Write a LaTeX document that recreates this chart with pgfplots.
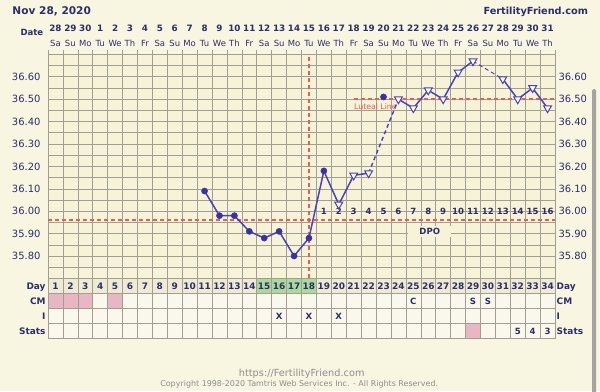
\documentclass[border=0pt]{standalone}
\usepackage{pgfplots}
\pgfplotsset{compat=1.18}
\usepackage{pgfplotstable}
\usepackage{fontspec}
\setmainfont{DejaVu Sans}
\definecolor{pagebg}{HTML}{F8F5E1}
\definecolor{plotbg}{HTML}{F7F3D9}
\definecolor{cellbg}{HTML}{FAF8EC}
\definecolor{dayrow}{HTML}{EFEAD4}
\definecolor{greencell}{HTML}{A9D99B}
\definecolor{pinkcell}{HTML}{E9B7C3}
\definecolor{gridcol}{HTML}{A29E92}
\definecolor{navy}{HTML}{2E2D6C}
\definecolor{lineblue}{HTML}{4B41B9}
\definecolor{markblue}{HTML}{3A31A9}
\definecolor{redline}{HTML}{E2605A}
\definecolor{footgray}{HTML}{8E8E8E}
\definecolor{scroll}{HTML}{A3A3A0}
\newcommand\fs[1]{\fontsize{#1}{#1}\selectfont}

% solid segments
\pgfplotstableread{
day temp
11 36.09
12 35.98
13 35.98
14 35.91
15 35.88
16 35.91
17 35.80
18 35.88
19 36.18
20 36.03
21 36.16
22 36.17
}\segA
\pgfplotstableread{
day temp
24 36.50
25 36.46
26 36.54
27 36.50
28 36.62
29 36.67
}\segB
\pgfplotstableread{
day temp
31 36.59
32 36.50
33 36.55
34 36.46
}\segC
% filled circle markers
\pgfplotstableread{
day temp
11 36.09
12 35.98
13 35.98
14 35.91
15 35.88
16 35.91
17 35.80
18 35.88
19 36.18
23 36.51
}\circpts
% open triangle markers
\pgfplotstableread{
day temp
20 36.03
21 36.16
22 36.17
24 36.50
25 36.46
26 36.54
27 36.50
28 36.62
29 36.67
31 36.59
32 36.50
33 36.55
34 36.46
}\tripts

\pgfplotsset{
  ffbase/.style={
    at={(48bp,112.6bp)}, anchor=south west,
    scale only axis, width=507bp, height=224bp,
    xmin=0.5, xmax=34.5, ymin=35.70, ymax=36.70,
  },
}

\begin{document}
\begin{tikzpicture}[x=1bp,y=1bp]
\fill[pagebg] (0,0) rectangle (600,391);

% header texts
\node[anchor=base west, font=\bfseries\fs{10.6}, text=navy, inner sep=0] at (12.3,376.5) {Nov 28, 2020};
\node[anchor=base east, font=\bfseries\fs{9.8}, text=navy, inner sep=0] at (588.3,376.5) {FertilityFriend.com};
\node[anchor=base east, font=\bfseries\fs{8.6}, text=navy, inner sep=0] at (43.5,355.5) {Date};

% main chart
\begin{axis}[ffbase,
  clip=false,
  axis background/.style={fill=plotbg},
  axis line style={gridcol, line width=0.6bp},
  xtick={0.5,1.5,...,34.5}, xticklabels={},
  xtick pos=right,
  tick align=outside,
  major tick length=4bp,
  x tick style={gridcol, line width=0.6bp},
  y tick style={draw=none},
  xmajorgrids,
  ytick={35.8,35.9,36.0,36.1,36.2,36.3,36.4,36.5,36.6},
  minor ytick={35.75,35.85,35.95,36.05,36.15,36.25,36.35,36.45,36.55,36.65},
  ymajorgrids, yminorgrids,
  grid style={gridcol, line width=0.6bp},
  minor grid style={gridcol, line width=0.6bp},
  yticklabel style={font=\fs{10}, text=navy},
  /pgf/number format/.cd, fixed, fixed zerofill, precision=2, assume math mode=true,
]
% DPO label
\node[fill=plotbg, font=\bfseries\fs{8.6}, text=navy, inner xsep=11bp, inner ysep=2.5bp] at (axis cs:26.1,35.91) {DPO};
% red lines
\addplot[redline, line width=2bp, dash pattern=on 4bp off 3bp] coordinates {(0.5,35.96) (34.5,35.96)};
\addplot[redline, line width=2bp, dash pattern=on 4bp off 3bp] coordinates {(21,36.50) (34.5,36.50)};
\addplot[redline, line width=2bp, dash pattern=on 4bp off 3bp] coordinates {(18,35.70) (18,36.70)};
\node[anchor=north west, text=redline, font=\fs{7.8}, inner sep=1bp] at (axis cs:20.95,36.486) {Luteal Line};
% DPO numbers
\node[font=\bfseries\fs{8.6}, text=navy] at (axis cs:19,36.0) {1};
\node[font=\bfseries\fs{8.6}, text=navy] at (axis cs:20,36.0) {2};
\node[font=\bfseries\fs{8.6}, text=navy] at (axis cs:21,36.0) {3};
\node[font=\bfseries\fs{8.6}, text=navy] at (axis cs:22,36.0) {4};
\node[font=\bfseries\fs{8.6}, text=navy] at (axis cs:23,36.0) {5};
\node[font=\bfseries\fs{8.6}, text=navy] at (axis cs:24,36.0) {6};
\node[font=\bfseries\fs{8.6}, text=navy] at (axis cs:25,36.0) {7};
\node[font=\bfseries\fs{8.6}, text=navy] at (axis cs:26,36.0) {8};
\node[font=\bfseries\fs{8.6}, text=navy] at (axis cs:27,36.0) {9};
\node[font=\bfseries\fs{8.6}, text=navy] at (axis cs:28,36.0) {10};
\node[font=\bfseries\fs{8.6}, text=navy] at (axis cs:29,36.0) {11};
\node[font=\bfseries\fs{8.6}, text=navy] at (axis cs:30,36.0) {12};
\node[font=\bfseries\fs{8.6}, text=navy] at (axis cs:31,36.0) {13};
\node[font=\bfseries\fs{8.6}, text=navy] at (axis cs:32,36.0) {14};
\node[font=\bfseries\fs{8.6}, text=navy] at (axis cs:33,36.0) {15};
\node[font=\bfseries\fs{8.6}, text=navy] at (axis cs:34,36.0) {16};
% temperature line
\addplot[lineblue, line width=1.5bp, mark=none] table[x=day,y=temp] {\segA};
\addplot[lineblue, line width=1.4bp, dash pattern=on 4bp off 3bp, mark=none] coordinates {(22,36.17) (24,36.50)};
\addplot[lineblue, line width=1.5bp, mark=none] table[x=day,y=temp] {\segB};
\addplot[lineblue, line width=1.0bp, dash pattern=on 4bp off 3bp, mark=none] coordinates {(29,36.67) (31,36.59)};
\addplot[lineblue, line width=1.5bp, mark=none] table[x=day,y=temp] {\segC};
\addplot[only marks, mark=*, mark size=3.1bp, mark options={fill=markblue, draw=markblue}] table[x=day,y=temp] {\circpts};
\addplot[only marks, mark=triangle*, mark size=4.5bp, mark options={rotate=180, fill=white, draw=lineblue, line width=1bp}] table[x=day,y=temp] {\tripts};
\end{axis}

% overlay: right labels + date numbers
\begin{axis}[ffbase,
  axis line style={draw=none}, tick style={draw=none},
  ytick={35.8,35.9,36.0,36.1,36.2,36.3,36.4,36.5,36.6},
  yticklabel pos=right,
  yticklabel style={font=\fs{10}, text=navy},
  xtick={1,2,...,34}, xticklabel pos=right,
  xticklabels={28,29,30,1,2,3,4,5,6,7,8,9,10,11,12,13,14,15,16,17,18,19,20,21,22,23,24,25,26,27,28,29,30,31},
  xticklabel style={font=\bfseries\fs{8.8}, text=navy, anchor=base, yshift=22.7bp},
  /pgf/number format/.cd, fixed, fixed zerofill, precision=2, assume math mode=true,
]
\end{axis}

% overlay: day of week
\begin{axis}[ffbase,
  axis line style={draw=none}, tick style={draw=none},
  ytick=\empty,
  xtick={1,2,...,34}, xticklabel pos=right,
  xticklabels={Sa,Su,Mo,Tu,We,Th,Fr,Sa,Su,Mo,Tu,We,Th,Fr,Sa,Su,Mo,Tu,We,Th,Fr,Sa,Su,Mo,Tu,We,Th,Fr,Sa,Su,Mo,Tu,We,Th},
  xticklabel style={font=\fs{8.5}, text=navy, anchor=base, yshift=7.7bp},
]
\end{axis}

% table
\begin{axis}[
  at={(48bp,52.7bp)}, anchor=south west,
  scale only axis, width=507bp, height=60bp,
  xmin=0.5, xmax=34.5, ymin=0, ymax=4,
  clip=false, axis on top,
  axis background/.style={fill=cellbg},
  axis line style={gridcol, line width=0.6bp},
  tick style={draw=none},
  xtick={1,2,...,34}, xticklabel pos=right,
  xticklabel style={font=\bfseries\fs{9}, text=navy, anchor=base, yshift=-10.8bp},
  minor xtick={0.5,1.5,...,34.5}, xminorgrids,
  ytick={0,1,2,3,4}, yticklabels={}, ymajorgrids,
  grid style={gridcol, line width=0.6bp},
  minor grid style={gridcol, line width=0.6bp},
  /pgf/number format/assume math mode=true,
]
\addplot[fill=dayrow, draw=none] coordinates {(0.5,3) (34.5,3) (34.5,4) (0.5,4)} -- cycle;
\addplot[fill=greencell, draw=none] coordinates {(14.5,3) (18.5,3) (18.5,4) (14.5,4)} -- cycle;
\addplot[fill=pinkcell, draw=none] coordinates {(0.5,2) (3.5,2) (3.5,3) (0.5,3)} -- cycle;
\addplot[fill=pinkcell, draw=none] coordinates {(4.5,2) (5.5,2) (5.5,3) (4.5,3)} -- cycle;
\addplot[fill=pinkcell, draw=none] coordinates {(28.5,0) (29.5,0) (29.5,1) (28.5,1)} -- cycle;
% row labels
\node[anchor=base east, font=\bfseries\fs{9}, text=navy, inner sep=0] at ([yshift=-3.3bp]axis cs:0.35,3.5) {Day};
\node[anchor=base east, font=\bfseries\fs{9}, text=navy, inner sep=0] at ([yshift=-3.3bp]axis cs:0.35,2.5) {CM};
\node[anchor=base east, font=\bfseries\fs{9}, text=navy, inner sep=0] at ([yshift=-3.3bp]axis cs:0.35,1.5) {I};
\node[anchor=base east, font=\bfseries\fs{9}, text=navy, inner sep=0] at ([yshift=-3.3bp]axis cs:0.35,0.5) {Stats};
\node[anchor=base west, font=\bfseries\fs{9}, text=navy, inner sep=0] at ([yshift=-3.3bp]axis cs:34.6,3.5) {Day};
\node[anchor=base west, font=\bfseries\fs{9}, text=navy, inner sep=0] at ([yshift=-3.3bp]axis cs:34.6,2.5) {CM};
\node[anchor=base west, font=\bfseries\fs{9}, text=navy, inner sep=0] at ([yshift=-3.3bp]axis cs:34.6,1.5) {I};
\node[anchor=base west, font=\bfseries\fs{9}, text=navy, inner sep=0] at ([yshift=-3.3bp]axis cs:34.6,0.5) {Stats};
% cell entries
\node[anchor=base, font=\bfseries\fs{8.6}, text=navy, inner sep=0] at ([yshift=-3.2bp]axis cs:25,2.5) {C};
\node[anchor=base, font=\bfseries\fs{8.6}, text=navy, inner sep=0] at ([yshift=-3.2bp]axis cs:29,2.5) {S};
\node[anchor=base, font=\bfseries\fs{8.6}, text=navy, inner sep=0] at ([yshift=-3.2bp]axis cs:30,2.5) {S};
\node[anchor=base, font=\bfseries\fs{8.6}, text=navy, inner sep=0] at ([yshift=-3.2bp]axis cs:16,1.5) {X};
\node[anchor=base, font=\bfseries\fs{8.6}, text=navy, inner sep=0] at ([yshift=-3.2bp]axis cs:18,1.5) {X};
\node[anchor=base, font=\bfseries\fs{8.6}, text=navy, inner sep=0] at ([yshift=-3.2bp]axis cs:20,1.5) {X};
\node[anchor=base, font=\bfseries\fs{8.6}, text=navy, inner sep=0] at ([yshift=-3.2bp]axis cs:32,0.5) {5};
\node[anchor=base, font=\bfseries\fs{8.6}, text=navy, inner sep=0] at ([yshift=-3.2bp]axis cs:33,0.5) {4};
\node[anchor=base, font=\bfseries\fs{8.6}, text=navy, inner sep=0] at ([yshift=-3.2bp]axis cs:34,0.5) {3};
\end{axis}

% footer
\node[anchor=base, font=\fs{9.8}, text=footgray, inner sep=0] at (301.7,14.3) {https://FertilityFriend.com};
\node[anchor=base, font=\fs{8}, text=footgray, inner sep=0] at (299.2,5) {Copyright 1998-2020 Tamtris Web Services Inc. - All Rights Reserved.};
% scroll bar
\fill[scroll, rounded corners=1.5bp] (592,-3) rectangle (596,302);

\pgfresetboundingbox
\useasboundingbox (0,0) rectangle (600,391);
\end{tikzpicture}
\end{document}
